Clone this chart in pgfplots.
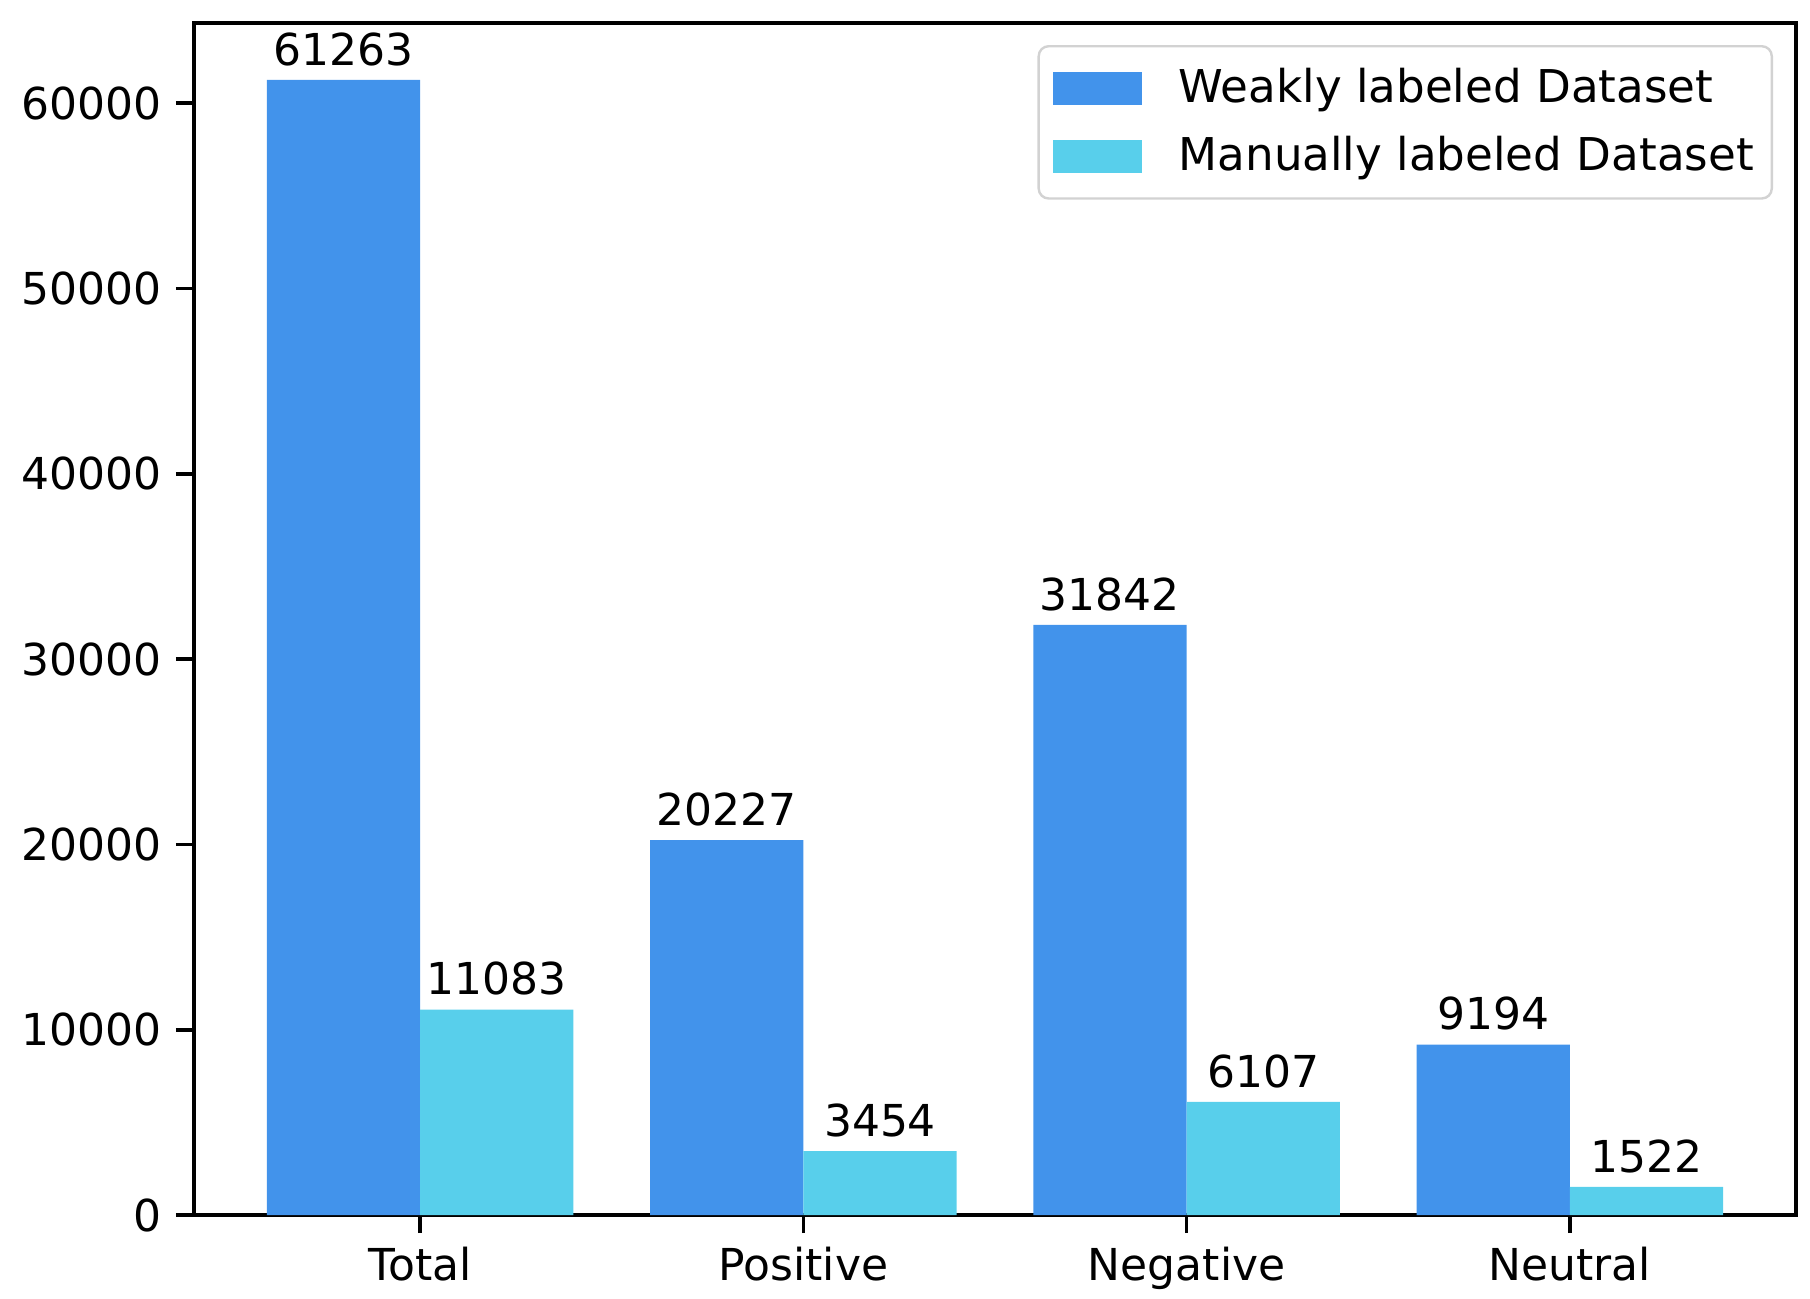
\documentclass[border=0pt]{standalone}
\usepackage{pgfplots}
\pgfplotsset{compat=1.18}
\usepackage{fontspec}
\setmainfont{DejaVu Sans}
\definecolor{weak}{RGB}{66,147,235}
\definecolor{manual}{RGB}{88,207,235}
\definecolor{legframe}{RGB}{210,210,210}
\begin{document}
\begin{tikzpicture}
\begin{axis}[
  at={(0,0)}, anchor=south west,
  scale only axis, width=400.5pt, height=298pt,
  xmin=-0.59, xmax=3.59, ymin=0, ymax=64326,
  axis line style={black, line width=0.9pt},
  tick style={black, line width=0.9pt},
  major tick length=4.5pt,
  tick align=outside,
  xtick={0,1,2,3}, xticklabels={Total,Positive,Negative,Neutral},
  ytick={0,10000,20000,30000,40000,50000,60000},
  scaled y ticks=false,
  yticklabel style={/pgf/number format/1000 sep={}},
  xtick pos=bottom, ytick pos=left,
  font=\fontsize{11}{13.2}\selectfont,
  ticklabel style={font=\fontsize{11}{13.2}\selectfont},
  /pgf/number format/assume math mode=true,
  clip=false,
  legend cell align=left,
  legend style={at={(1,1)}, anchor=north east, xshift=-5.75pt, yshift=-5.5pt,
    draw=legframe, line width=0.6pt, rounded corners=2.5pt, fill=white,
    font=\fontsize{11.3}{13.5}\selectfont,
    inner xsep=3.5pt, inner ysep=4.5pt, row sep=4.9pt,
    nodes={inner sep=1pt},
    /tikz/every odd column/.append style={column sep=8.25pt}},
]
\addplot[ybar, bar width=0.4, bar shift=0pt, fill=weak, draw=none,
  legend image code/.code={\fill[weak, sharp corners] (0pt,-4.125pt) rectangle (22.25pt,4.125pt);},
  nodes near coords,
  every node near coord/.append style={black, font=\fontsize{11}{13.2}\selectfont, /pgf/number format/1000 sep={}}]
  coordinates {(-0.2,61263) (0.8,20227) (1.8,31842) (2.8,9194)};
\addlegendentry{Weakly labeled Dataset}
\addplot[ybar, bar width=0.4, bar shift=0pt, fill=manual, draw=none,
  legend image code/.code={\fill[manual, sharp corners] (0pt,-4.125pt) rectangle (22.25pt,4.125pt);},
  nodes near coords,
  every node near coord/.append style={black, font=\fontsize{11}{13.2}\selectfont, /pgf/number format/1000 sep={}}]
  coordinates {(0.2,11083) (1.2,3454) (2.2,6107) (3.2,1522)};
\addlegendentry{Manually labeled Dataset}
\end{axis}
\pgfresetboundingbox
\path[use as bounding box] (-48.5pt,-20.75pt) rectangle (404pt,303.75pt);
\end{tikzpicture}
\end{document}
